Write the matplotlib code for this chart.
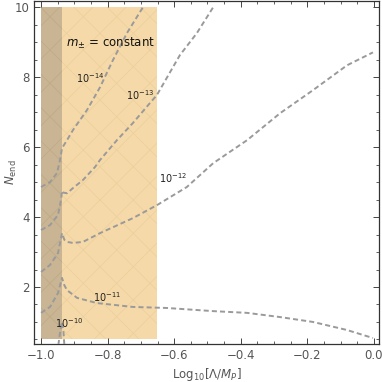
import matplotlib
matplotlib.use("Agg")
import matplotlib.pyplot as plt
from matplotlib.ticker import MultipleLocator

# ---- data ----
c14_x = [-1.0, -0.973, -0.952, -0.943, -0.937, -0.922, -0.904, -0.862, -0.823, -0.784, -0.742, -0.694]
c14_y = [4.86, 5.00, 5.26, 5.63, 5.97, 6.20, 6.49, 7.06, 7.71, 8.49, 9.26, 10.0]

c13_x = [-1.0, -0.973, -0.949, -0.940, -0.937, -0.933, -0.922, -0.904, -0.874, -0.838, -0.823, -0.772, -0.724, -0.673, -0.652, -0.583, -0.532, -0.483]
c13_y = [3.63, 3.77, 4.06, 4.49, 4.75, 4.70, 4.68, 4.83, 5.06, 5.43, 5.63, 6.20, 6.69, 7.26, 7.49, 8.63, 9.26, 10.0]

c12_x = [-1.0, -0.973, -0.949, -0.937, -0.930, -0.922, -0.904, -0.874, -0.823, -0.724, -0.652, -0.562, -0.483, -0.381, -0.282, -0.183, -0.081, -0.003]
c12_y = [2.43, 2.63, 2.97, 3.54, 3.35, 3.29, 3.26, 3.29, 3.54, 3.97, 4.34, 4.86, 5.54, 6.20, 6.97, 7.63, 8.34, 8.71]

c11_x = [-1.0, -0.973, -0.949, -0.937, -0.930, -0.922, -0.892, -0.832, -0.724, -0.622, -0.483, -0.381, -0.282, -0.183, -0.081, -0.003]
c11_y = [1.26, 1.43, 1.83, 2.26, 2.05, 1.91, 1.69, 1.54, 1.43, 1.40, 1.31, 1.26, 1.14, 1.00, 0.77, 0.54]

c10_x = [-0.948, -0.943, -0.938, -0.933, -0.930]
c10_y = [0.34, 0.69, 1.00, 0.77, 0.34]

contour_labels = [r"$10^{-14}$", r"$10^{-13}$", r"$10^{-12}$", r"$10^{-11}$", r"$10^{-10}$"]
label_x = [-0.853, -0.703, -0.604, -0.802, -0.916]
label_y = [7.97, 7.49, 5.11, 1.71, 0.97]

dark_band = (-1.0, -0.937)
light_band = (-0.937, -0.651)
band_y = (0.52, 10.0)

# ---- figure ----
plt.rcParams["hatch.linewidth"] = 0.5
fig = plt.figure(figsize=(3.82, 3.82), dpi=100)
ax = fig.add_axes([0.090, 0.0995, 0.902, 0.897])

ax.fill_between(dark_band, band_y[0], band_y[1], facecolor="#c9b493", edgecolor="#bfa987",
                hatch="x", lw=0, zorder=1)
ax.fill_between(light_band, band_y[0], band_y[1], facecolor="#f5d9a8", edgecolor="#eccf9a",
                hatch="x", lw=0, zorder=1)

ls = dict(color="#9a9a9a", lw=1.4, dashes=(2.6, 1.6), zorder=3, solid_capstyle="butt")
for xs, ys in [(c14_x, c14_y), (c13_x, c13_y), (c12_x, c12_y), (c11_x, c11_y), (c10_x, c10_y)]:
    ax.plot(xs, ys, **ls)

for t, x, y in zip(contour_labels, label_x, label_y):
    ax.text(x, y, t, fontsize=7, ha="center", va="center", color="#222222", zorder=4)

ax.text(-0.793, 8.97, r"$m_{\pm}$ = constant", fontsize=8.5, ha="center", va="center",
        color="#111111", zorder=4)

ax.set_xlim(-1.020, 0.015)
ax.set_ylim(0.37, 10.17)

ax.xaxis.set_major_locator(MultipleLocator(0.2))
ax.xaxis.set_minor_locator(MultipleLocator(0.05))
ax.yaxis.set_major_locator(MultipleLocator(2))
ax.yaxis.set_minor_locator(MultipleLocator(0.5))
ax.set_xticks([-1.0, -0.8, -0.6, -0.4, -0.2, 0.0])
ax.set_xticklabels(["\u22121.0", "\u22120.8", "\u22120.6", "\u22120.4", "\u22120.2", "0.0"])
ax.tick_params(which="both", direction="in", top=True, right=True, colors="#444444",
               labelsize=8.5, labelcolor="#555555")
ax.tick_params(which="major", length=4, width=0.7)
ax.tick_params(which="minor", length=2, width=0.6)
for s in ax.spines.values():
    s.set_color("#333333")
    s.set_linewidth(0.9)

ax.set_xlabel(r"Log$_{10}$[$\Lambda$/$M_P$]", fontsize=8.5, color="#555555", labelpad=3)
ax.set_ylabel(r"$N_{\rm end}$", fontsize=8.5, color="#555555")
ax.yaxis.set_label_coords(-0.045, 0.5)

fig.savefig("out.png", dpi=100)
